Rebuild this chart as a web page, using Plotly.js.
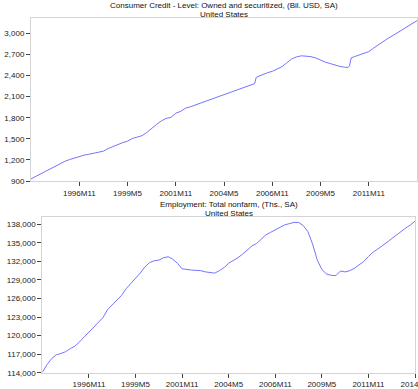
<!DOCTYPE html>
<html>
<head>
<meta charset="utf-8">
<script src="https://cdn.plot.ly/plotly-3.0.1.min.js"></script>
<style>html,body{margin:0;padding:0;background:#fff;}#chart{width:418px;height:389px;}</style>
</head>
<body>
<div id="chart"></div>
<script>
// Consumer credit (Bil. USD, SA)
const creditDates = ['1994-05','1994-08','1994-11','1995-02','1995-05','1995-08','1995-11','1996-02','1996-05','1996-08','1996-11','1997-02','1997-05','1997-08','1997-11','1998-02','1998-05','1998-08','1998-11','1999-02','1999-05','1999-08','1999-11','2000-02','2000-05','2000-08','2000-11','2001-02','2001-05','2001-08','2001-11','2002-02','2002-05','2002-08','2002-11','2003-02','2003-05','2003-08','2003-11','2004-02','2004-05','2004-08','2004-11','2005-02','2005-05','2005-08','2005-11','2005-12','2006-01','2006-02','2006-05','2006-08','2006-11','2007-02','2007-05','2007-08','2007-11','2008-02','2008-05','2008-08','2008-11','2009-02','2009-05','2009-08','2009-11','2010-02','2010-05','2010-08','2010-10','2010-11','2010-12','2011-02','2011-05','2011-08','2011-11','2012-02','2012-05','2012-08','2012-11','2013-02','2013-05','2013-08','2013-11','2014-02','2014-05'];
const creditValues = [930,965,1003,1040,1077,1115,1150,1180,1205,1228,1252,1268,1280,1295,1318,1325,1362,1392,1418,1446,1466,1505,1524,1545,1590,1650,1705,1755,1790,1805,1865,1890,1935,1955,1980,2005,2035,2060,2080,2105,2125,2150,2175,2205,2230,2255,2275,2285,2375,2385,2405,2440,2460,2490,2525,2580,2635,2665,2680,2675,2668,2650,2620,2590,2570,2545,2530,2518,2515,2535,2650,2668,2688,2715,2740,2790,2840,2885,2930,2970,3010,3060,3100,3140,3180];

// Employment: total nonfarm (Ths., SA)
const empDates = ['1994-05','1994-08','1994-11','1995-02','1995-05','1995-08','1995-11','1996-02','1996-05','1996-08','1996-11','1997-02','1997-05','1997-08','1997-11','1998-02','1998-05','1998-08','1998-11','1999-02','1999-05','1999-08','1999-11','2000-02','2000-05','2000-08','2000-11','2001-02','2001-05','2001-08','2001-11','2002-02','2002-05','2002-08','2002-11','2003-02','2003-05','2003-08','2003-11','2004-02','2004-05','2004-08','2004-11','2005-02','2005-05','2005-08','2005-11','2006-02','2006-05','2006-08','2006-11','2007-02','2007-05','2007-08','2007-11','2008-02','2008-05','2008-08','2008-11','2009-02','2009-05','2009-08','2009-11','2010-02','2010-05','2010-08','2010-11','2011-02','2011-05','2011-08','2011-11','2012-02','2012-05','2012-08','2012-11','2013-02','2013-05','2013-08','2013-11','2014-02','2014-05'];
const empValues = [114050,115300,116300,116900,117100,117400,117900,118300,119000,119800,120600,121300,122100,122900,124200,125000,125600,126500,127600,128400,129200,130100,131100,131800,132100,132200,132600,132750,132350,131700,130800,130650,130600,130550,130500,130300,130150,130100,130500,131000,131700,132100,132600,133200,133800,134500,134900,135600,136300,136700,137100,137600,137900,138100,138300,138300,137800,136800,134800,132200,130700,129950,129750,129700,130450,130300,130500,130900,131500,132000,132800,133500,134000,134500,135100,135700,136300,136900,137400,137900,138500];

// Tick labels
const topTickVals = ['1996-11-01','1999-05-01','2001-11-01','2004-05-01','2006-11-01','2009-05-01','2011-11-01'];
const topTickText = ['1996M11','1999M5','2001M11','2004M5','2006M11','2009M5','2011M11'];
const botTickVals = ['1996-11-01','1999-05-01','2001-11-01','2004-05-01','2006-11-01','2009-05-01','2011-11-01','2014-05-01'];
const botTickText = ['1996M11','1999M5','2001M11','2004M5','2006M11','2009M5','2011M11','2014M5'];
const topYTicks = [900,1200,1500,1800,2100,2400,2700,3000];
const botYTicks = [114000,117000,120000,123000,126000,129000,132000,135000,138000];

const W = 418, H = 389;
const px = v => v / W;
const py = v => 1 - v / H;
const font = {family: 'Liberation Sans, Arial, sans-serif', size: 8, color: '#222'};
const lineStyle = {color: '#7474ff', width: 1};

const axisCommon = {
  showgrid: false, zeroline: false, showline: true, mirror: true,
  linecolor: '#d4d4d4', linewidth: 1,
  ticks: 'outside', ticklen: 4, tickcolor: '#444', tickwidth: 1,
  tickfont: font, fixedrange: true, ticklabeloverflow: 'allow'
};

const traces = [
  {x: creditDates, y: creditValues, type: 'scatter', mode: 'lines', line: lineStyle, xaxis: 'x', yaxis: 'y', hoverinfo: 'skip'},
  {x: empDates, y: empValues, type: 'scatter', mode: 'lines', line: lineStyle, xaxis: 'x2', yaxis: 'y2', hoverinfo: 'skip'}
];

const titleFont = {family: font.family, size: 8, color: '#111'};

const layout = {
  width: W, height: H,
  margin: {l: 0, r: 0, t: 0, b: 0},
  paper_bgcolor: '#fff', plot_bgcolor: '#fff',
  showlegend: false,
  font: font,
  xaxis: Object.assign({}, axisCommon, {
    domain: [px(31), px(417)], anchor: 'y', type: 'date',
    range: ['1994-05-01', '2014-05-01'],
    tickmode: 'array', tickvals: topTickVals, ticktext: topTickText
  }),
  yaxis: Object.assign({}, axisCommon, {
    domain: [py(181), py(18)], anchor: 'x',
    range: [900, 3218],
    tickmode: 'array', tickvals: topYTicks, tickformat: ','
  }),
  xaxis2: Object.assign({}, axisCommon, {
    domain: [px(42.3), px(415)], anchor: 'y2', type: 'date',
    range: ['1994-05-01', '2014-05-01'],
    tickmode: 'array', tickvals: botTickVals, ticktext: botTickText
  }),
  yaxis2: Object.assign({}, axisCommon, {
    domain: [py(372.7), py(217.3)], anchor: 'x2',
    range: [114000, 139130],
    tickmode: 'array', tickvals: botYTicks, tickformat: ','
  }),
  annotations: [
    {text: 'Consumer Credit - Level: Owned and securitized, (Bil. USD, SA)', xref: 'paper', yref: 'paper', x: px(224), y: py(0), xanchor: 'center', yanchor: 'top', showarrow: false, font: titleFont, borderpad: 0},
    {text: 'United States', xref: 'paper', yref: 'paper', x: px(224), y: py(8.5), xanchor: 'center', yanchor: 'top', showarrow: false, font: titleFont, borderpad: 0},
    {text: 'Employment: Total nonfarm, (Ths., SA)', xref: 'paper', yref: 'paper', x: px(228.7), y: py(199), xanchor: 'center', yanchor: 'top', showarrow: false, font: titleFont, borderpad: 0},
    {text: 'United States', xref: 'paper', yref: 'paper', x: px(228.7), y: py(207.5), xanchor: 'center', yanchor: 'top', showarrow: false, font: titleFont, borderpad: 0}
  ]
};

Plotly.newPlot('chart', traces, layout, {staticPlot: true, displayModeBar: false});
</script>
</body>
</html>
